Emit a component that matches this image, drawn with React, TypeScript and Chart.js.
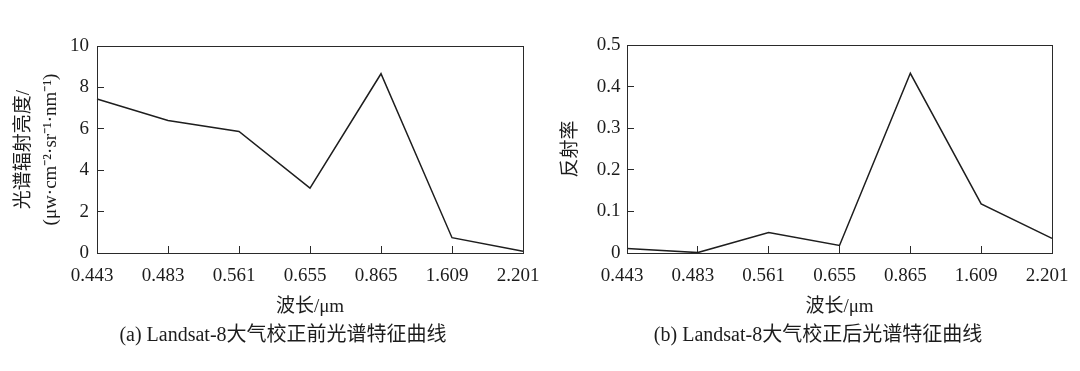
import React, { useEffect, useRef } from "react";
import { Chart, registerables } from "chart.js";

Chart.register(...registerables);

const wavelengths = ["0.443", "0.483", "0.561", "0.655", "0.865", "1.609", "2.201"];
const radianceValues = [7.44, 6.4, 5.87, 3.13, 8.66, 0.74, 0.08];
const reflectanceValues = [0.011, 0.001, 0.049, 0.018, 0.432, 0.118, 0.035];

const leftYTitle = ["光谱辐射亮度/", "(μw·cm⁻²·sr⁻¹·nm⁻¹)"];
const rightYTitle = "反射率";
const xTitle = "波长/μm";
const captionA = "(a) Landsat-8大气校正前光谱特征曲线";
const captionB = "(b) Landsat-8大气校正后光谱特征曲线";

const FONT = '"Liberation Serif", "Noto Sans CJK SC", serif';
const INK = "#1c1c1c";

const boxPlugin = {
  id: "boxFrame",
  afterDraw(chart: any) {
    const { ctx, chartArea } = chart;
    const l = Math.round(chartArea.left) + 0.5;
    const t = Math.round(chartArea.top) + 0.5;
    const r = Math.round(chartArea.right) + 0.5;
    const b = Math.round(chartArea.bottom) + 0.5;
    ctx.save();
    ctx.strokeStyle = "#2a2a2a";
    ctx.lineWidth = 1;
    ctx.strokeRect(l, t, r - l, b - t);
    ctx.restore();
  },
};

type Props = {
  values: number[];
  yMax: number;
  yStep: number;
  yTitle: string | string[];
  yTitlePadTop: number;
  yWidth: number;
  yLabelPad: number;
  width: number;
  height: number;
  padding: { top: number; left: number; right: number; bottom: number };
};

function LineChart(p: Props) {
  const ref = useRef<HTMLCanvasElement | null>(null);
  useEffect(() => {
    if (!ref.current) return;
    const chart = new Chart(ref.current, {
      type: "line",
      data: {
        labels: wavelengths,
        datasets: [
          {
            data: p.values,
            borderColor: "#1e1e1e",
            borderWidth: 1.5,
            pointRadius: 0,
            tension: 0,
            fill: false,
          },
        ],
      },
      options: {
        animation: false,
        responsive: false,
        events: [],
        layout: { padding: p.padding },
        plugins: { legend: { display: false }, tooltip: { enabled: false } },
        scales: {
          x: {
            type: "category",
            offset: false,
            grid: {
              drawOnChartArea: false,
              drawTicks: true,
              tickLength: -7,
              color: "#2a2a2a",
            },
            border: { display: false },
            ticks: {
              color: INK,
              font: { family: FONT, size: 19 },
              padding: 19,
              labelOffset: -5,
              maxRotation: 0,
              autoSkip: false,
            },
            title: {
              display: true,
              text: xTitle,
              color: INK,
              font: { family: FONT, size: 19, lineHeight: 1 },
              padding: { top: 0, bottom: 6 },
            },
            afterFit(scale: any) {
              scale.height = 70;
            },
          },
          y: {
            min: 0,
            max: p.yMax,
            grid: {
              drawOnChartArea: false,
              drawTicks: true,
              tickLength: -7,
              color: "#2a2a2a",
            },
            border: { display: false },
            ticks: {
              stepSize: p.yStep,
              color: INK,
              font: { family: FONT, size: 19 },
              padding: p.yLabelPad,
            },
            title: {
              display: true,
              text: p.yTitle,
              color: INK,
              font: { family: FONT, size: 19, lineHeight: 1.42 },
              padding: { top: p.yTitlePadTop, bottom: 0 },
            },
            afterFit(scale: any) {
              scale.width = p.yWidth;
            },
          },
        },
      },
      plugins: [boxPlugin],
    } as any);
    return () => chart.destroy();
  }, []);
  return (
    <canvas
      ref={ref}
      width={p.width}
      height={p.height}
      style={{ width: p.width, height: p.height, display: "block" }}
    />
  );
}

const captionStyle: React.CSSProperties = {
  position: "absolute",
  top: 322,
  fontFamily: FONT,
  fontSize: 20,
  lineHeight: "24px",
  color: INK,
  whiteSpace: "nowrap",
  transform: "translateX(-50%)",
};

export default function App() {
  return (
    <div
      style={{
        position: "absolute",
        left: 0,
        top: 0,
        width: 1080,
        height: 371,
        background: "#fff",
        overflow: "hidden",
      }}
    >
      <div style={{ position: "absolute", left: 0, top: 0 }}>
        <LineChart
          values={radianceValues}
          yMax={10}
          yStep={2}
          yTitle={leftYTitle}
          yTitlePadTop={10.5}
          yWidth={97}
          yLabelPad={15}
          width={575}
          height={330}
          padding={{ top: 46, left: 0, right: 52, bottom: 7 }}
        />
      </div>
      <div style={{ position: "absolute", left: 550, top: 0 }}>
        <LineChart
          values={reflectanceValues}
          yMax={0.5}
          yStep={0.1}
          yTitle={rightYTitle}
          yTitlePadTop={8}
          yWidth={77}
          yLabelPad={13.5}
          width={555}
          height={330}
          padding={{ top: 45, left: 0, right: 53, bottom: 7 }}
        />
      </div>
      <div style={{ ...captionStyle, left: 283 }}>{captionA}</div>
      <div style={{ ...captionStyle, left: 818 }}>{captionB}</div>
    </div>
  );
}
